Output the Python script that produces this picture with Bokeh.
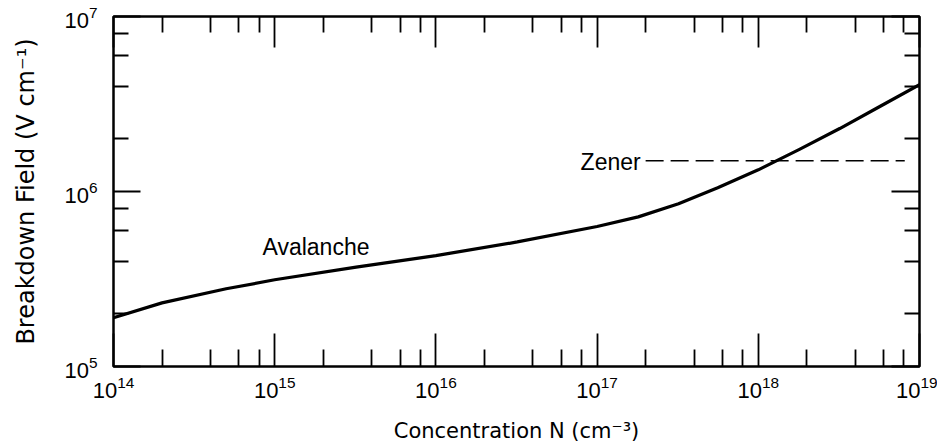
from bokeh.plotting import figure
from bokeh.models import FixedTicker, LogAxis, Label
from bokeh.embed import file_html
from bokeh.resources import INLINE

# ---- data ----
concentration = [1e14, 2e14, 5e14, 1e15, 3.2e15, 1e16, 3.2e16, 1e17, 1.8e17, 3.2e17,
                 5.6e17, 1e18, 1.8e18, 3.2e18, 5.6e18, 1e19]
breakdown_field = [1.9e5, 2.31e5, 2.78e5, 3.13e5, 3.7e5, 4.3e5, 5.15e5, 6.31e5,
                   7.16e5, 8.5e5, 1.05e6, 1.33e6, 1.74e6, 2.29e6, 3.04e6, 4.08e6]
zener_x = [2.0e17, 8.1e18]
zener_y = [1.5e6, 1.5e6]

x_major = [1e14, 1e15, 1e16, 1e17, 1e18, 1e19]
x_minor = [2e14, 4e14, 6e14, 8e14, 2e15, 4e15, 6e15, 8e15,
           2e16, 4e16, 6e16, 8e16, 2e17, 4e17, 6e17, 8e17,
           2e18, 4e18, 6e18, 8e18]
y_major = [1e5, 1e6, 1e7]
y_minor = [2e5, 4e5, 6e5, 8e5, 2e6, 4e6, 6e6, 8e6]

FONT = "Liberation Sans"
LABEL_FONT = "DejaVu Sans"

p = figure(width=937, height=445, x_axis_type="log", y_axis_type="log",
           x_range=(1e14, 1e19), y_range=(1e5, 1e7),
           output_backend="svg", toolbar_location=None,
           min_border_left=113, min_border_right=18,
           min_border_top=16, min_border_bottom=79)

p.background_fill_color = "white"
p.border_fill_color = "white"
p.outline_line_color = "black"
p.outline_line_width = 2.5
p.grid.visible = False

# curve and zener line
p.line(concentration, breakdown_field, line_color="black", line_width=3.2,
       line_join="round")
p.line(zener_x, zener_y, line_color="black", line_width=1.5, line_dash="18 7")

p.add_layout(Label(x=8.4e14, y=4.8e5, text="Avalanche", text_font=FONT,
                   text_font_size="23px", text_baseline="alphabetic",
                   text_color="black"))
p.add_layout(Label(x=7.9e16, y=1.47e6, text="Zener", text_font=FONT,
                   text_font_size="23px", text_baseline="alphabetic",
                   text_color="black"))

xt = FixedTicker(ticks=x_major, minor_ticks=x_minor)
yt = FixedTicker(ticks=y_major, minor_ticks=y_minor)


def style_axis(ax, major_len, minor_len, show_labels):
    ax.axis_line_color = None
    ax.major_tick_in = major_len
    ax.major_tick_out = 0
    ax.minor_tick_in = minor_len
    ax.minor_tick_out = 0
    ax.major_tick_line_color = "black"
    ax.minor_tick_line_color = "black"
    ax.major_tick_line_width = 1.8
    ax.minor_tick_line_width = 1.8
    if show_labels:
        ax.major_label_text_font = FONT
        ax.major_label_text_font_size = "22px"
        ax.major_label_text_color = "black"
    else:
        ax.major_label_text_font_size = "1px"
        ax.major_label_text_color = None
        ax.major_label_standoff = 0


xa = p.xaxis[0]
xa.ticker = xt
style_axis(xa, 33, 17, True)
xa.major_label_standoff = 9
xa.axis_label = "Concentration N (cm⁻³)"
xa.axis_label_text_font = LABEL_FONT
xa.axis_label_text_font_size = "21px"
xa.axis_label_text_font_style = "normal"
xa.axis_label_text_color = "black"
xa.axis_label_standoff = 18

ya = p.yaxis[0]
ya.ticker = yt
style_axis(ya, 27, 15, True)
ya.major_label_standoff = 16
ya.axis_label = "Breakdown Field (V cm⁻¹)"
ya.axis_label_text_font = LABEL_FONT
ya.axis_label_text_font_size = "24px"
ya.axis_label_text_font_style = "normal"
ya.axis_label_text_color = "black"
ya.axis_label_standoff = 21

top = LogAxis(ticker=FixedTicker(ticks=x_major, minor_ticks=x_minor))
style_axis(top, 31, 16, False)
p.add_layout(top, "above")

right = LogAxis(ticker=FixedTicker(ticks=y_major, minor_ticks=y_minor))
style_axis(right, 28, 15, False)
p.add_layout(right, "right")

open("out.html", "w").write(file_html(p, INLINE))
